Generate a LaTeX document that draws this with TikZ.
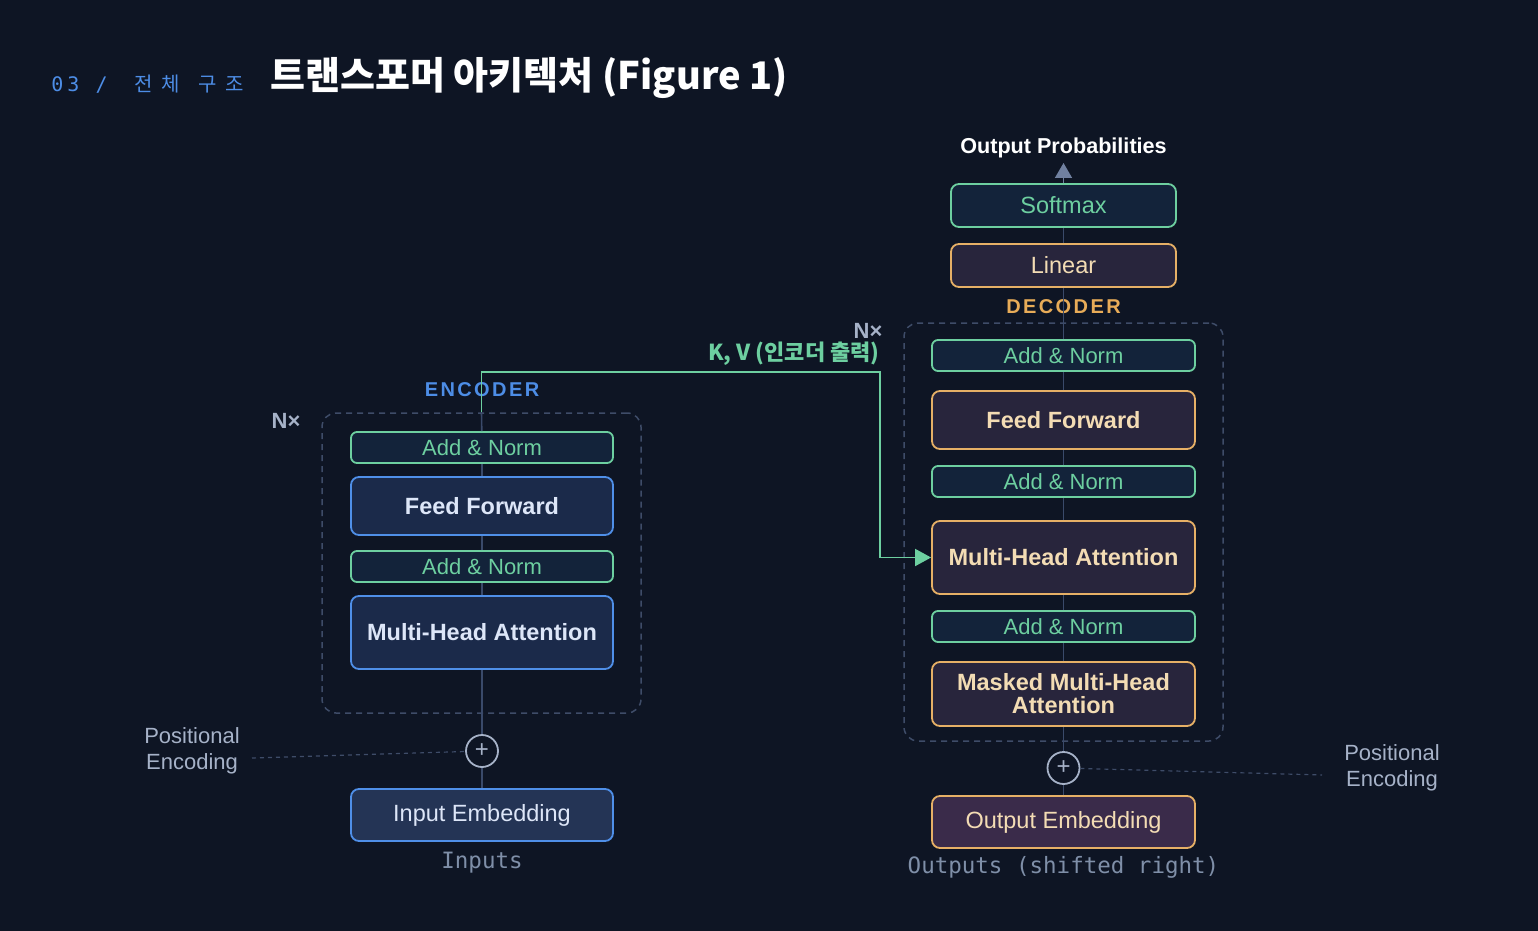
\documentclass[tikz,border=0pt]{standalone}
\usepackage{fontspec}
\setmainfont{Liberation Sans}
\setmonofont{DejaVu Sans Mono}
\newfontfamily\krfont{Noto Sans CJK KR}
\newfontfamily\spacedfont[LetterSpace=12]{Liberation Sans}
\newfontfamily\submono[LetterSpace=20]{DejaVu Sans Mono}
\newfontfamily\subkr[LetterSpace=45]{Noto Sans CJK KR}
\usetikzlibrary{arrows.meta}

\definecolor{bgc}{HTML}{0E1524}
\definecolor{dashc}{HTML}{3E4C68}
\definecolor{linec}{HTML}{3A4A6A}
\definecolor{greenc}{HTML}{6DCFA0}
\definecolor{anfill}{HTML}{13233A}
\definecolor{bluec}{HTML}{4F8FE8}
\definecolor{bluefill}{HTML}{1B2A4A}
\definecolor{embfill}{HTML}{243455}
\definecolor{bluetext}{HTML}{DDE6F8}
\definecolor{orangec}{HTML}{E6B066}
\definecolor{orfill}{HTML}{28253C}
\definecolor{outfill}{HTML}{3A2B4A}
\definecolor{creamc}{HTML}{F3DCB4}
\definecolor{grayc}{HTML}{A6B2C8}
\definecolor{monoc}{HTML}{7F8FA8}
\definecolor{encc}{HTML}{4D8DE6}
\definecolor{decc}{HTML}{E8AC58}
\definecolor{arrowc}{HTML}{7080A0}

\begin{document}
\begin{tikzpicture}[x=0.5pt,y=-0.5pt]
		\tikzstyle{frame}=[draw=dashc,line width=0.75pt,dash pattern=on 3pt off 2.5pt,rounded corners=7pt,inner sep=0pt]
		\tikzstyle{addnorm}=[draw=greenc,fill=anfill,line width=0.9pt,rounded corners=3pt,text=greenc,font=\fontsize{11}{13}\selectfont,minimum height=15.5pt,inner sep=0pt]
		\tikzstyle{encblock}=[draw=bluec,fill=bluefill,line width=0.9pt,rounded corners=4pt,text=bluetext,font=\bfseries\fontsize{11.75}{13}\selectfont,inner sep=0pt]
		\tikzstyle{decblock}=[draw=orangec,fill=orfill,line width=0.9pt,rounded corners=4pt,text=creamc,font=\bfseries\fontsize{11.75}{11.5}\selectfont,inner sep=0pt,align=center]
		\tikzstyle{plus}=[circle,draw=grayc,fill=bgc,line width=0.9pt,minimum size=16pt,inner sep=0pt,text=grayc,font=\fontsize{12}{12}\selectfont]
		\tikzstyle{conn}=[draw=linec,line width=0.8pt]
		\tikzstyle{pedash}=[draw=dashc,line width=0.6pt,dash pattern=on 2pt off 2pt]
		\tikzstyle{posenc}=[text=grayc,align=center,font=\fontsize{11}{13}\selectfont]
		\tikzstyle{monolabel}=[text=monoc,font=\ttfamily\fontsize{11.25}{13}\selectfont]
		\tikzstyle{nx}=[text=grayc,font=\bfseries\fontsize{11}{13}\selectfont]
		\useasboundingbox[fill=bgc] (0,0) rectangle (1538,931);

		% header
		\node [anchor=west,inner sep=0pt,text=encc,font=\fontsize{10}{12}\selectfont] (subtitle) at (51,84) {{\submono 03 /}\hspace{13.5pt}{\subkr 전체}\hspace{9pt}{\subkr 구조}};
		\node [anchor=west,inner sep=0pt,text=white,font=\krfont\bfseries\fontsize{19}{22}\selectfont] (title) at (270,78) {트랜스포머 아키텍처 (Figure 1)};

		% encoder
		\node [frame,minimum width=159.5pt,minimum height=150pt] (eframe) at (481.5,563) {};
		\node [text=encc,font=\spacedfont\bfseries\fontsize{10}{12}\selectfont] (enclabel) at (482,390) {ENCODER};
		\node [nx] (encnx) at (286,421) {N×};
		\node [addnorm,minimum width=131pt] (ean1) at (482,447.5) {Add \& Norm};
		\node [encblock,minimum width=131pt,minimum height=29pt] (eff) at (482,506) {Feed Forward};
		\node [addnorm,minimum width=131pt] (ean2) at (482,566.5) {Add \& Norm};
		\node [encblock,minimum width=131pt,minimum height=36.5pt] (emha) at (482,632.5) {Multi-Head Attention};
		\node [plus] (eplus) at (482,751) {+};
		\node [encblock,fill=embfill,font=\fontsize{11.75}{13}\selectfont,minimum width=131pt,minimum height=26pt] (iemb) at (482,815) {Input Embedding};
		\node [monolabel] (inputs) at (482,863) {Inputs};
		\node [posenc] (epos) at (192,751) {Positional\\Encoding};
		\coordinate (elink) at (252,758);

		\path[conn] (iemb) edge (eplus);
		\path[conn] (eplus) edge (emha);
		\path[conn] (emha) edge (ean2);
		\path[conn] (ean2) edge (eff);
		\path[conn] (eff) edge (ean1);
		\path[conn] (ean1) edge (eframe.north);
		\path[pedash] (elink) edge (eplus);

		% decoder
		\node [frame,minimum width=159.5pt,minimum height=209pt] (dframe) at (1063.5,532) {};
		\node [text=decc,font=\spacedfont\bfseries\fontsize{10}{12}\selectfont] (declabel) at (1063.5,307) {DECODER};
		\node [nx] (decnx) at (868,331) {N×};
		\node [text=white,font=\bfseries\fontsize{10.8}{13}\selectfont] (probs) at (1063.5,148) {Output Probabilities};
		\coordinate (probtip) at (1063.5,163);
		\node [addnorm,minimum width=112.5pt,minimum height=21.5pt,rounded corners=4pt,font=\fontsize{11.75}{13}\selectfont] (softmax) at (1063.5,205.5) {Softmax};
		\node [decblock,font=\fontsize{11.75}{13}\selectfont,minimum width=112.5pt,minimum height=21.5pt] (linear) at (1063.5,265.5) {Linear};
		\node [addnorm,minimum width=131.5pt] (dan1) at (1063.5,355.5) {Add \& Norm};
		\node [decblock,minimum width=131.5pt,minimum height=29pt] (dff) at (1063.5,420) {Feed Forward};
		\node [addnorm,minimum width=131.5pt] (dan2) at (1063.5,481.5) {Add \& Norm};
		\node [decblock,minimum width=131.5pt,minimum height=36.5pt] (dmha) at (1063.5,557.5) {Multi-Head Attention};
		\node [addnorm,minimum width=131.5pt] (dan3) at (1063.5,626.5) {Add \& Norm};
		\node [decblock,minimum width=131.5pt,minimum height=32pt] (dmask) at (1063.5,694) {Masked Multi-Head\\Attention};
		\node [plus] (dplus) at (1063.5,768) {+};
		\node [decblock,fill=outfill,font=\fontsize{11.75}{13}\selectfont,minimum width=131.5pt,minimum height=26pt] (oemb) at (1063.5,822) {Output Embedding};
		\node [monolabel] (outputs) at (1063.5,867) {Outputs (shifted right)};
		\node [posenc] (dpos) at (1392,768) {Positional\\Encoding};
		\coordinate (dlink) at (1322,775);

		\path[conn] (oemb) edge (dplus);
		\path[conn] (dplus) edge (dmask);
		\path[conn] (dmask) edge (dan3);
		\path[conn] (dan3) edge (dmha);
		\path[conn] (dmha) edge (dan2);
		\path[conn] (dan2) edge (dff);
		\path[conn] (dff) edge (dan1);
		\path[conn] (dan1) edge (linear);
		\path[conn] (linear) edge (softmax);
		\draw[conn,draw=arrowc,-{Triangle[length=7.5pt,width=8.5pt,fill=arrowc]}] (softmax) -- (probtip);
		\path[pedash] (dplus) edge (dlink);

		% encoder output to cross attention
		\coordinate (kvturn) at (880,372);
		\node [anchor=south east,inner sep=0pt,text=greenc,font=\krfont\bfseries\fontsize{11}{12}\selectfont] (kvlabel) at (880,366) {K, V (인코더 출력)};
		\draw[draw=greenc,line width=0.9pt,-{Triangle[length=8pt,width=8.5pt,fill=greenc]}] (eframe.north) |- (kvturn) |- (dmha.west);
\end{tikzpicture}
\end{document}
